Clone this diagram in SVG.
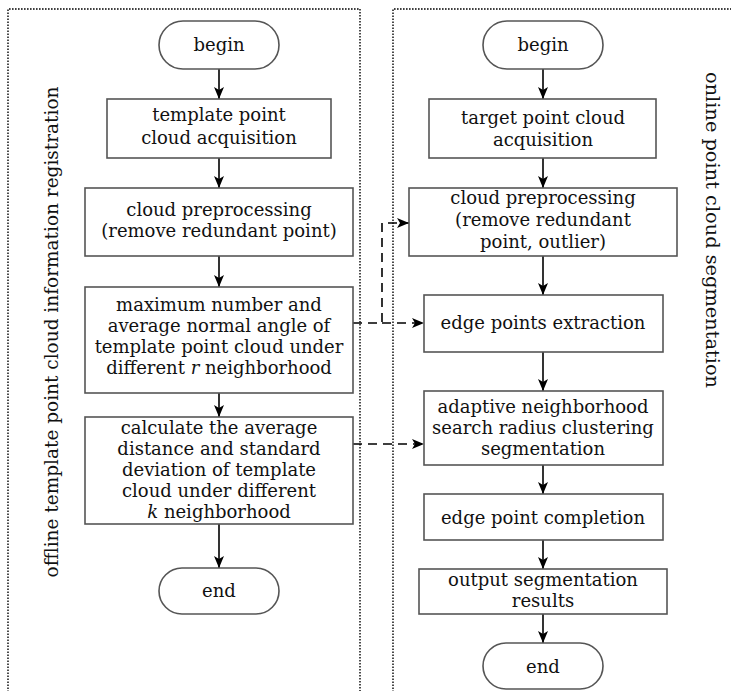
<svg xmlns="http://www.w3.org/2000/svg" width="731" height="691" viewBox="0 0 731 691">
<defs>
<style>
.box{fill:#fff;stroke:#555;stroke-width:1.6}
.t{font-family:"DejaVu Serif","Liberation Serif",serif;font-size:18px;fill:#111;text-anchor:middle}
.side{font-family:"DejaVu Serif","Liberation Serif",serif;font-size:19px;fill:#111;text-anchor:middle}
.ar{stroke:#000;stroke-width:1.6;fill:none;marker-end:url(#ah)}
.da{stroke:#000;stroke-width:1.6;fill:none;stroke-dasharray:9,6;marker-end:url(#ah)}
.panel{stroke:#000;stroke-width:1.4;fill:none;stroke-dasharray:1.6,1.4}
</style>
<marker id="ah" viewBox="0 0 12 10" refX="12" refY="5" markerWidth="12" markerHeight="10" markerUnits="userSpaceOnUse" orient="auto">
<path d="M0,0 L12,5 L0,10 L3,5 Z" fill="#000"/>
</marker>
</defs>
<rect width="731" height="691" fill="#fff"/>
<g id="panels">
<path class="panel" d="M8,695 L8,9 L360,9 L360,695"/>
<path class="panel" d="M393,695 L393,9 L735,9"/>
</g>
<g id="connectors">
<line class="ar" x1="219" y1="69" x2="219" y2="99"/>
<line class="ar" x1="219" y1="158" x2="219" y2="188"/>
<line class="ar" x1="219" y1="256" x2="219" y2="287"/>
<line class="ar" x1="219" y1="393" x2="219" y2="417"/>
<line class="ar" x1="219" y1="524" x2="219" y2="568"/>
<line class="ar" x1="543" y1="69" x2="543" y2="99"/>
<line class="ar" x1="543" y1="158" x2="543" y2="188"/>
<line class="ar" x1="543" y1="256" x2="543" y2="295"/>
<line class="ar" x1="543" y1="352" x2="543" y2="391"/>
<line class="ar" x1="543" y1="465" x2="543" y2="494"/>
<line class="ar" x1="543" y1="540" x2="543" y2="569"/>
<line class="ar" x1="543" y1="614" x2="543" y2="643"/>
<path class="da" d="M353,323 L382,323 L382,223 L409,223"/>
<path class="da" d="M382,323 L424,323"/>
<path class="da" d="M353,444 L424,444"/>
</g>
<g id="offline-label"><text class="side" transform="translate(58,332) rotate(-90)" textLength="491" lengthAdjust="spacingAndGlyphs">offline template point cloud information registration</text></g>
<g id="online-label"><text class="side" transform="translate(706,230) rotate(90)" textLength="316" lengthAdjust="spacingAndGlyphs">online point cloud segmentation</text></g>
<g id="l-begin"><rect class="box" x="159" y="21" width="120" height="48" rx="24"/><text class="t" x="219" y="51">begin</text></g>
<g id="l-acq"><rect class="box" x="107" y="99" width="224" height="59"/><text class="t" x="219" y="121">template point</text><text class="t" x="219" y="144">cloud acquisition</text></g>
<g id="l-pre"><rect class="box" x="85" y="188" width="268" height="68"/><text class="t" x="219" y="216">cloud preprocessing</text><text class="t" x="219" y="237">(remove redundant point)</text></g>
<g id="l-max"><rect class="box" x="85" y="287" width="268" height="106"/><text class="t" x="219" y="311">maximum number and</text><text class="t" x="219" y="332">average normal angle of</text><text class="t" x="219" y="353">template point cloud under</text><text class="t" x="219" y="374">different <tspan font-style="italic">r</tspan> neighborhood</text></g>
<g id="l-calc"><rect class="box" x="85" y="417" width="268" height="107"/><text class="t" x="219" y="434">calculate the average</text><text class="t" x="219" y="455">distance and standard</text><text class="t" x="219" y="476">deviation of template</text><text class="t" x="219" y="497">cloud under different</text><text class="t" x="219" y="518"><tspan font-style="italic">k</tspan> neighborhood</text></g>
<g id="l-end"><rect class="box" x="159" y="568" width="120" height="46" rx="23"/><text class="t" x="219" y="597">end</text></g>
<g id="r-begin"><rect class="box" x="483" y="21" width="120" height="48" rx="24"/><text class="t" x="543" y="51">begin</text></g>
<g id="r-acq"><rect class="box" x="429" y="99" width="227" height="59"/><text class="t" x="543" y="124">target point cloud</text><text class="t" x="543" y="146">acquisition</text></g>
<g id="r-pre"><rect class="box" x="409" y="188" width="268" height="68"/><text class="t" x="543" y="204">cloud preprocessing</text><text class="t" x="543" y="226">(remove redundant</text><text class="t" x="543" y="248">point, outlier)</text></g>
<g id="r-edge"><rect class="box" x="424" y="295" width="239" height="57"/><text class="t" x="543" y="329">edge points extraction</text></g>
<g id="r-adapt"><rect class="box" x="424" y="391" width="239" height="74"/><text class="t" x="543" y="413">adaptive neighborhood</text><text class="t" x="543" y="434">search radius clustering</text><text class="t" x="543" y="455">segmentation</text></g>
<g id="r-comp"><rect class="box" x="424" y="494" width="239" height="46"/><text class="t" x="543" y="524">edge point completion</text></g>
<g id="r-out"><rect class="box" x="419" y="569" width="248" height="45"/><text class="t" x="543" y="586">output segmentation</text><text class="t" x="543" y="607">results</text></g>
<g id="r-end"><rect class="box" x="483" y="643" width="120" height="46" rx="23"/><text class="t" x="543" y="673">end</text></g>
</svg>
